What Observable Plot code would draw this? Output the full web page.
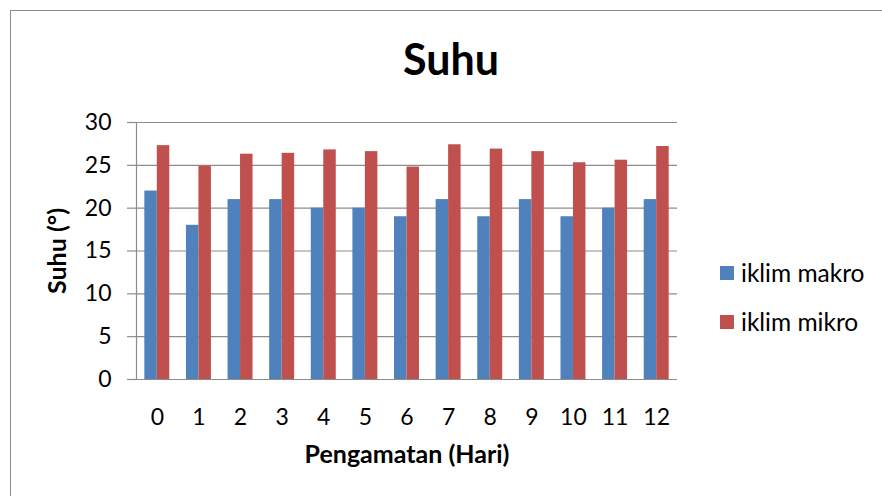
<!DOCTYPE html>
<html>
<head>
<meta charset="utf-8">
<script src="https://cdn.jsdelivr.net/npm/d3@7"></script>
<script src="https://cdn.jsdelivr.net/npm/@observablehq/plot@0.6"></script>
<style>
  html, body { margin: 0; padding: 0; background: #fff; }
  #wrap { position: relative; width: 882px; height: 496px; overflow: hidden; font-family: Lato, sans-serif; }
  #border { position: absolute; left: 10px; top: 10px; width: 1000px; height: 1000px; border-left: 1.5px solid #8a8a8a; border-top: 1.5px solid #8a8a8a; }
  #title { position: absolute; left: 301px; width: 300px; top: 37px; text-align: center; font-weight: bold; font-size: 43px; line-height: 1; color: #000; }
  #chart { position: absolute; left: 0; top: 0; }
  .leg { position: absolute; left: 720px; font-size: 24.5px; line-height: 1; color: #000; }
  .leg span.sw { position: absolute; left: 0; width: 14px; height: 14px; }
  .leg span.tx { position: absolute; left: 21px; white-space: nowrap; }
</style>
</head>
<body>
<div id="wrap">
  <div id="border"></div>
  <div id="title">Suhu</div>
  <div id="chart"></div>
  <div id="legend"></div>
</div>
<script>
const days = ["0","1","2","3","4","5","6","7","8","9","10","11","12"];
const makro = [22, 18, 21, 21, 20, 20, 19, 21, 19, 21, 19, 20, 21];
const mikro = [27.3, 24.9, 26.3, 26.4, 26.8, 26.6, 24.8, 27.4, 26.9, 26.6, 25.3, 25.6, 27.2];
const seriesNames = ["iklim makro", "iklim mikro"];
const seriesColors = ["#4F81BD", "#C0504D"];
const yTicks = [0, 5, 10, 15, 20, 25, 30];
const titleText = "Suhu";
const xLabel = "Pengamatan (Hari)";
const yLabel = "Suhu (°)";

const data = days.map((d, i) => ({day: d, makro: makro[i], mikro: mikro[i]}));

const W = 882, H = 496, mL = 136, mR = 205, mT = 122, mB = 117;
const pInner = 0.4, pOuter = 0.2;
const step = (W - mL - mR) / (days.length - pInner + 2 * pOuter);
const bw = step * (1 - pInner);
const gridColor = "#8c8c8c";

const chart = Plot.plot({
  width: W, height: H,
  marginLeft: mL, marginRight: mR, marginTop: mT, marginBottom: mB,
  style: {fontFamily: "Lato, sans-serif", fontSize: "23px", color: "#000", background: "transparent"},
  x: {domain: days, paddingInner: pInner, paddingOuter: pOuter, align: 0.5, round: false},
  y: {domain: [0, 30]},
  marks: [
    Plot.gridY(yTicks, {stroke: gridColor, strokeOpacity: 1, strokeWidth: 1.2}),
    Plot.barY(data, {x: "day", y: "makro", fill: seriesColors[0], insetRight: bw / 2}),
    Plot.barY(data, {x: "day", y: "mikro", fill: seriesColors[1], insetLeft: bw / 2}),
    Plot.ruleX([days[0]], {dx: -step / 2, y1: 0, y2: 30, stroke: gridColor, strokeWidth: 1.2}),
    Plot.axisY(yTicks, {tickSize: 9, tickPadding: 16, stroke: gridColor, strokeOpacity: 1, strokeWidth: 1.2,
      label: yLabel, labelArrow: "none", labelAnchor: "center", labelOffset: 88}),
    Plot.axisX({tickSize: 0, tickPadding: 29, label: xLabel, labelArrow: "none", labelAnchor: "center", labelOffset: 83})
  ]
});
document.getElementById("chart").appendChild(chart);

// bold axis labels
chart.querySelectorAll("g[aria-label='y-axis label'] text, g[aria-label='x-axis label'] text").forEach(t => {
  t.setAttribute("font-weight", "bold");
  t.setAttribute("font-size", "25px");
  t.textContent = t.textContent.replace(/\s*[→↑]\s*$/, "").replace(/^\s*[←↓]\s*/, "");
});

document.getElementById("title").textContent = titleText;

const legend = document.getElementById("legend");
const legTops = [261, 310];
seriesNames.forEach((name, i) => {
  const row = document.createElement("div");
  row.className = "leg";
  row.style.top = legTops[i] + "px";
  row.innerHTML = `<span class="sw" style="background:${seriesColors[i]};top:5px"></span><span class="tx">${name}</span>`;
  legend.appendChild(row);
});
</script>
</body>
</html>
